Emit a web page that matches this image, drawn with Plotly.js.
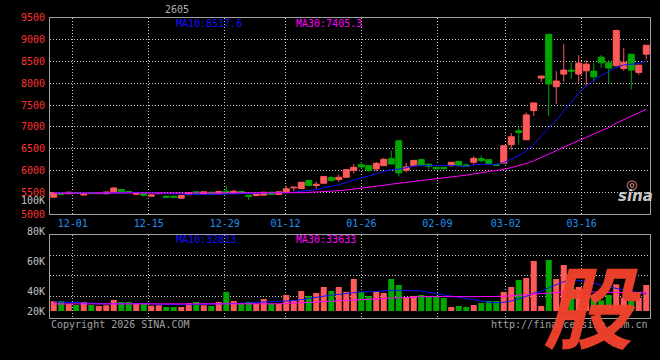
<!DOCTYPE html>
<html><head><meta charset="utf-8">
<script src="https://cdn.plot.ly/plotly-3.0.1.min.js"></script>
<style>html,body{margin:0;padding:0;background:#000;}#chart{width:660px;height:360px;}</style>
</head><body><div id="chart"></div>
<script>
const dates = ['11-26','11-27','11-28',
 '12-01','12-02','12-03','12-04','12-05','12-08','12-09','12-10','12-11','12-12',
 '12-15','12-16','12-17','12-18','12-19','12-22','12-23','12-24','12-25','12-26',
 '12-29','12-30','12-31',
 '01-05','01-06','01-07','01-08','01-09','01-12','01-13','01-14','01-15','01-16',
 '01-19','01-20','01-21','01-22','01-23','01-26','01-27','01-28','01-29','01-30',
 '02-02','02-03','02-04','02-05','02-06','02-09','02-10','02-11','02-12','02-13',
 '02-24','02-25','02-26','02-27',
 '03-02','03-03','03-04','03-05','03-06','03-09','03-10','03-11','03-12','03-13',
 '03-16','03-17','03-18','03-19','03-20','03-23','03-24','03-25','03-26','03-27'];
const openP = [5386,5470,5463,5485,5436,5475,5468,5463,5505,5562,5516,5455,5463,5409,5465,5409,5409,5363,5441,5509,
 5448,5500,5463,5523,5470,5516,5432,5425,5432,5500,5448,5493,5600,5584,5767,5653,5705,5835,5790,5842,
 6002,6132,6109,6034,6109,6269,6680,6002,6109,6246,6139,6071,6071,6109,6207,6125,6185,6269,6246,6139,
 6166,6589,6908,6703,7371,8117,9122,7919,8209,8300,8209,8284,8277,8597,8467,8398,8339,8665,8248,8665];
const highP = [5490,5472,5505,5495,5462,5509,5480,5510,5614,5565,5520,5465,5465,5440,5475,5412,5410,5428,5490,5512,
 5512,5505,5520,5653,5546,5520,5435,5463,5505,5505,5515,5637,5618,5735,5770,5744,5862,5865,5904,6022,
 6148,6194,6112,6194,6285,6452,6685,6171,6235,6276,6171,6075,6075,6190,6210,6155,6322,6337,6250,6142,
 6570,6856,7006,7326,7550,8168,9125,8277,8893,8489,8642,8528,8467,8642,8528,9229,8802,8670,8418,8875];
const lowP = [5380,5450,5460,5470,5418,5465,5462,5460,5500,5505,5500,5436,5402,5405,5460,5383,5363,5360,5438,5475,
 5445,5460,5460,5468,5468,5475,5322,5409,5430,5445,5445,5490,5523,5580,5650,5578,5700,5737,5737,5838,
 5927,6034,5966,5979,6105,6145,5865,5956,6105,6120,6018,6030,6002,6080,6105,6090,6132,6185,6158,6112,
 6155,6474,6589,6700,7250,8026,7250,7524,8033,8095,8010,7942,8033,8353,8010,8395,8284,7860,8193,8544];
const closeP = [5486,5454,5500,5478,5459,5468,5474,5505,5596,5509,5505,5462,5432,5436,5470,5386,5386,5425,5486,5477,
 5509,5463,5516,5470,5523,5477,5402,5454,5500,5448,5509,5578,5614,5728,5653,5683,5858,5767,5842,6018,
 6071,6080,6002,6162,6253,6148,5943,6080,6230,6125,6093,6034,6048,6185,6109,6093,6276,6223,6162,6116,
 6566,6771,6869,7273,7547,8163,7981,8049,8300,8277,8460,8437,8147,8467,8346,9206,8476,8300,8414,8870];
const ma10 = [5482,5480,5480,5478,5476,5476,5478,5482,5488,5493,5495,5496,5489,5485,5485,5477,5468,5460,5449,5446,
 5446,5447,5455,5458,5464,5473,5475,5478,5479,5476,5476,5488,5498,5523,5536,5557,5603,5634,5668,5725,
 5781,5831,5870,5914,5974,6020,6029,6060,6099,6109,6112,6107,6112,6114,6100,6094,6127,6142,6135,6134,
 6181,6255,6337,6446,6590,6797,6967,7150,7364,7580,7769,7936,8063,8183,8263,8367,8417,8442,8453,8517.6];
const ma30 = [5478,5478,5479,5479,5480,5480,5480,5481,5481,5482,5482,5482,5481,5480,5479,5477,5475,5474,5473,5472,
 5472,5472,5472,5472,5472,5473,5472,5472,5472,5472,5473,5477,5481,5489,5496,5503,5516,5524,5533,5550,
 5569,5589,5608,5632,5659,5684,5703,5724,5749,5771,5790,5809,5827,5851,5870,5891,5920,5946,5968,5990,
 6025,6065,6107,6158,6221,6304,6375,6451,6533,6608,6688,6766,6838,6915,6984,7086,7171,7245,7318,7405.3];
const volume = [27300,27500,25300,24500,26800,24500,23800,24300,28300,26800,26800,25300,25300,24000,24300,23000,23000,23000,25800,26800,
 24300,23800,26800,34300,27500,25300,26800,25300,29000,25300,25300,32000,28300,35000,31300,33500,38000,35000,38000,34300,
 44000,34300,31300,34300,33500,44000,39500,30500,31300,32000,30500,31300,29800,23000,23800,23000,24500,26000,27500,27500,
 34300,38000,43300,44800,57500,23800,58300,44000,54500,40800,38000,32000,32000,28000,32000,40000,30000,28000,29800,39500];
const volMa10 = [26800,26800,26500,26300,26000,25700,25500,25500,25500,25500,25600,25700,25800,25600,25000,24800,24800,24800,24800,24900,
 25200,25400,25500,25500,25600,25700,26000,26500,26800,26800,27000,27500,27800,28500,29500,30500,31500,32000,32500,33000,
 34000,34300,34300,34800,35300,35500,35500,35500,35500,35000,34000,33000,32000,31300,30500,29000,28000,27000,26500,26200,
 26500,27500,29000,31000,33500,34500,37500,39500,42000,43000,43000,42000,41000,39500,38000,37000,36000,35000,34000,32813];
const volMa30 = [25300,25300,25200,25200,25100,25100,25000,25000,25000,25000,25000,25000,25000,24900,24900,24900,24900,24900,24900,25000,
 25000,25000,25000,25100,25100,25100,25200,25200,25300,25300,25400,25600,25800,26100,26300,26600,27000,27300,27700,28000,
 28500,28700,28900,29200,29500,29900,30200,30300,30500,30700,30800,30900,30900,30800,30800,30700,30700,30700,30700,30800,
 31000,31400,31800,32300,33000,33000,33500,33800,34200,34400,34500,34400,34300,34100,34000,34000,33900,33800,33700,33633];
const tickDates = ['12-01','12-15','12-29','01-12','01-26','02-09','03-02','03-16'];
const priceTicks = [5000,5500,6000,6500,7000,7500,8000,8500,9000,9500];
const volGrid = [31250,47000,62000];
const volLabels = ['80K','60K','40K','20K'];
const volLabelY = [231,261,291,311];

const UP = '#ff5a5a', DOWN = '#00a800', BLUE = '#1010ff', MAG = '#ff00ff';
const MONO = 'DejaVu Sans Mono';
const idx = dates.map((d, i) => i);
const n = dates.length;
const tickPos = tickDates.map(d => dates.indexOf(d) * n / (n - 1) - 0.5);
const volBase = 20000;
const volColors = idx.map(i => closeP[i] >= openP[i] ? UP : DOWN);
const px = x => x / 660, py = y => 1 - y / 360;

const traces = [
  {type:'candlestick', x: idx, open: openP, high: highP, low: lowP, close: closeP, xaxis:'x', yaxis:'y',
   increasing:{line:{color:UP, width:1}, fillcolor:UP}, decreasing:{line:{color:DOWN, width:1}, fillcolor:DOWN},
   whiskerwidth:0, hoverinfo:'skip', showlegend:false},
  {type:'scatter', mode:'lines', x: idx, y: ma10, line:{color:BLUE, width:1}, xaxis:'x', yaxis:'y', hoverinfo:'skip', showlegend:false},
  {type:'scatter', mode:'lines', x: idx, y: ma30, line:{color:MAG, width:1}, xaxis:'x', yaxis:'y', hoverinfo:'skip', showlegend:false},
  {type:'bar', x: idx, y: volume.map(v => v - volBase), base: volBase, marker:{color: volColors, line:{width:0}},
   width: 0.8, xaxis:'x2', yaxis:'y2', hoverinfo:'skip', showlegend:false},
  {type:'scatter', mode:'lines', x: idx, y: volMa10, line:{color:BLUE, width:1}, xaxis:'x2', yaxis:'y2', hoverinfo:'skip', showlegend:false},
  {type:'scatter', mode:'lines', x: idx, y: volMa30, line:{color:MAG, width:1}, xaxis:'x2', yaxis:'y2', hoverinfo:'skip', showlegend:false}
];

const gridStyle = {showgrid:true, gridcolor:'#c8c8c8', griddash:'1px,2px', gridwidth:1, zeroline:false,
  showline:true, mirror:true, linecolor:'#a0a0a0', linewidth:1, ticks:'', fixedrange:true};
const dom = [px(50), px(650)];

const ann = [];
function txt(text, x, y, color, anchor, size, extra) {
  ann.push(Object.assign({text, x: px(x), y: py(y), xref:'paper', yref:'paper', showarrow:false,
    xanchor: anchor, yanchor:'middle', font:{family: MONO, size: size || 10, color}}, extra || {}));
}
txt('2605', 177, 9, '#b0b0b0', 'center', 10);
txt('MA10:' + ma10[n-1].toFixed(1), 174, 23, BLUE, 'left', 10);
txt('MA30:' + ma30[n-1].toFixed(1), 294, 23, MAG, 'left', 10);
txt('MA10:' + volMa10[n-1], 174, 239, BLUE, 'left', 10);
txt('MA30:' + volMa30[n-1], 294, 239, MAG, 'left', 10);
txt('100K', 47, 200, '#c0c0c0', 'right', 10);
volLabels.forEach((t, i) => txt(t, 47, volLabelY[i], '#c0c0c0', 'right', 10));
txt('Copyright 2026 SINA.COM', 49, 324, '#a0a0a0', 'left', 10);
txt('http://finance.sina.com.cn', 650, 324, '#a0a0a0', 'right', 10);
txt('◎', 631, 185, '#f0a0a0', 'center', 12, {font:{family:'DejaVu Sans', size:13, color:'#f4a0a0'}});
txt('sina', 635, 196, '#c8c8c8', 'center', 14, {font:{family:'DejaVu Sans', size:15, color:'#c8c8c8', weight:'bold', style:'italic'}});
txt('股', 592, 303, 'rgba(240,66,44,0.96)', 'center', 90,
  {font:{family:'Noto Sans CJK SC', size:90, color:'rgba(240,66,44,0.96)', weight:'bold', style:'italic'}});

const layout = {
  width:660, height:360, margin:{l:0, r:0, t:0, b:0}, paper_bgcolor:'#000', plot_bgcolor:'#000',
  showlegend:false, boxgap:0.2, boxgroupgap:0, bargap:0.2,
  xaxis: Object.assign({}, gridStyle, {domain: dom, range:[-0.5, n - 0.5], anchor:'y', tickvals: tickPos, ticktext: tickDates,
    tickfont:{family: MONO, size:10, color:'#2090f0'}, ticklabelstandoff:0, rangeslider:{visible:false}}),
  yaxis: Object.assign({}, gridStyle, {domain:[py(214), py(17.8)], range:[5000, 9500], anchor:'x', tickvals: priceTicks,
    tickfont:{family: MONO, size:10, color:'#ff3030'}, ticklabelstandoff:2}),
  xaxis2: Object.assign({}, gridStyle, {domain: dom, range:[-0.5, n - 0.5], anchor:'y2', tickvals: tickPos, showticklabels:false}),
  yaxis2: Object.assign({}, gridStyle, {domain:[py(318), py(235)], range:[14750, 77000], anchor:'x2', tickvals: volGrid, showticklabels:false}),
  annotations: ann
};
Plotly.newPlot('chart', traces, layout, {staticPlot:true, displayModeBar:false});
</script></body></html>
